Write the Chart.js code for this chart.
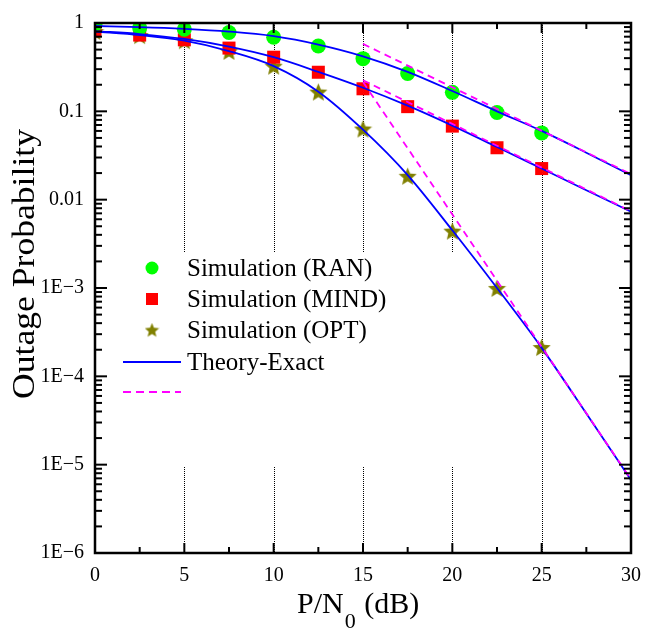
<!DOCTYPE html>
<html>
<head>
<meta charset="utf-8">
<script src="https://cdn.jsdelivr.net/npm/chart.js@4.4.0/dist/chart.umd.min.js"></script>
<style>
  html, body { margin: 0; padding: 0; background: #fff; }
</style>
</head>
<body>
<canvas id="chart" width="656" height="632"></canvas>
<script>
// P/N0 (dB) values
const snrSim = [0, 2.5, 5, 7.5, 10, 12.5, 15, 17.5, 20, 22.5, 25];
const snrTheory = [0, 2.5, 5, 7.5, 10, 12.5, 15, 17.5, 20, 22.5, 25, 27.5, 30];
const snrAsym = [15, 30];

// simulated outage probability
const simRan = [0.96, 0.88, 0.85, 0.78, 0.69, 0.55, 0.395, 0.268, 0.164, 0.097, 0.057];
const simMind = [0.82, 0.73, 0.645, 0.52, 0.41, 0.277, 0.18, 0.113, 0.068, 0.0387, 0.0225];
const simOpt = [0.8, 0.72, 0.63, 0.477, 0.324, 0.165, 0.063, 0.0184, 0.0044, 0.00099, 0.000212];

// exact theory curves
const theoryRan = [0.925, 0.9, 0.86, 0.8, 0.71, 0.57, 0.42, 0.28, 0.17, 0.1, 0.06, 0.034, 0.0189];
const theoryMind = [0.81, 0.75, 0.66, 0.54, 0.41, 0.28, 0.185, 0.116, 0.069, 0.0395, 0.0225, 0.0128, 0.0073];
const theoryOpt = [0.8, 0.73, 0.63, 0.48, 0.325, 0.167, 0.062, 0.019, 0.0045, 0.001, 0.00021, 0.000038, 0.0000067];

// high SNR asymptotes
const asymRan = [0.58, 0.0195];
const asymMind = [0.225, 0.0074];
const asymOpt = [0.215, 0.0000068];

// axes
const xTicks = [0, 5, 10, 15, 20, 25, 30];
const xGrid = [5, 10, 15, 20, 25];
const yTickValues = [1, 0.1, 0.01, 1e-3, 1e-4, 1e-5, 1e-6];
const yTickLabels = ['1', '0.1', '0.01', '1E\u22123', '1E\u22124', '1E\u22125', '1E\u22126'];

const legendLabels = ['Simulation (RAN)', 'Simulation (MIND)', 'Simulation (OPT)', 'Theory-Exact', ''];

const SERIF = '"Liberation Serif", "Times New Roman", serif';

function makeStar(size, color) {
  const c = document.createElement('canvas');
  c.width = c.height = size;
  const g = c.getContext('2d');
  const cx = size / 2, cy = size / 2 + size * 0.04, R = size / 2, r = R * 0.45;
  g.beginPath();
  for (let i = 0; i < 10; i++) {
    const a = -Math.PI / 2 + i * Math.PI / 5;
    const rad = i % 2 === 0 ? R : r;
    g.lineTo(cx + rad * Math.cos(a), cy + rad * Math.sin(a));
  }
  g.closePath();
  g.fillStyle = color;
  g.fill();
  return c;
}

const star = makeStar(19, '#808000');
const starSmall = makeStar(15, '#808000');

function pts(xs, ys) {
  return xs.map((x, i) => ({ x: x, y: ys[i] }));
}

function simSet(ys, style, color, radius) {
  return {
    data: pts(snrSim, ys), showLine: false, order: 2,
    pointStyle: style, pointRadius: radius, pointHoverRadius: radius,
    pointBackgroundColor: color, pointBorderColor: color, pointBorderWidth: 0
  };
}

function theorySet(ys) {
  return {
    data: pts(snrTheory, ys), order: 1, borderColor: '#0000ff', borderWidth: 1.8,
    pointRadius: 0, cubicInterpolationMode: 'monotone'
  };
}

function asymSet(ys) {
  return {
    data: pts(snrAsym, ys), order: 0, borderColor: '#ff00ff', borderWidth: 1.8,
    borderDash: [7, 5], pointRadius: 0
  };
}

// frame, inward ticks, dotted grid, legend and axis titles
const decorations = {
  id: 'decorations',
  beforeDatasetsDraw(chart) {
    const { ctx, chartArea: a, scales: { x } } = chart;
    ctx.save();
    ctx.strokeStyle = '#000';
    ctx.lineWidth = 1;
    ctx.setLineDash([1, 1]);
    xGrid.forEach(v => {
      const px = Math.round(x.getPixelForValue(v)) + 0.5;
      ctx.beginPath();
      ctx.moveTo(px, a.top);
      ctx.lineTo(px, a.bottom);
      ctx.stroke();
    });
    ctx.setLineDash([]);
    // legend background
    ctx.fillStyle = '#fff';
    ctx.fillRect(103, 252, 360, 214);
    ctx.restore();
  },
  afterDraw(chart) {
    const { ctx, chartArea: a, scales: { x, y } } = chart;
    ctx.save();
    ctx.strokeStyle = '#000';
    ctx.lineWidth = 2;
    ctx.lineCap = 'butt';
    const tick = (x1, y1, x2, y2) => {
      ctx.beginPath();
      ctx.moveTo(x1, y1);
      ctx.lineTo(x2, y2);
      ctx.stroke();
    };
    // x ticks
    for (let v = 0; v <= 30; v += 2.5) {
      const px = x.getPixelForValue(v);
      const len = v % 5 === 0 ? 10 : 6;
      tick(px, a.bottom, px, a.bottom - len);
      tick(px, a.top, px, a.top + len);
    }
    // y ticks
    for (let e = -6; e <= 0; e++) {
      for (let m = 1; m <= 9; m++) {
        const v = m * Math.pow(10, e);
        if (v > 1) break;
        const py = y.getPixelForValue(v);
        const len = m === 1 ? 12 : 7;
        tick(a.left, py, a.left + len, py);
        tick(a.right, py, a.right - len, py);
      }
    }
    // frame
    ctx.lineWidth = 2.5;
    ctx.strokeRect(a.left, a.top, a.right - a.left, a.bottom - a.top);

    // legend
    const ds = chart.data.datasets;
    const lx = 152, rows = [268, 299, 330, 362, 392];
    ctx.fillStyle = '#00ff00';
    ctx.beginPath();
    ctx.arc(lx, rows[0], 6.5, 0, Math.PI * 2);
    ctx.fill();
    ctx.fillStyle = '#ff0000';
    ctx.fillRect(lx - 6, rows[1] - 6, 12, 12);
    ctx.drawImage(starSmall, lx - 7.5, rows[2] - 7.5);
    ctx.lineWidth = 1.8;
    ctx.strokeStyle = ds[3].borderColor;
    tick(123, rows[3], 181, rows[3]);
    ctx.strokeStyle = ds[6].borderColor;
    ctx.setLineDash([8, 5]);
    tick(123, rows[4], 181, rows[4]);
    ctx.setLineDash([]);
    ctx.fillStyle = '#000';
    ctx.font = '25px ' + SERIF;
    ctx.textBaseline = 'middle';
    ctx.textAlign = 'left';
    legendLabels.forEach((t, i) => ctx.fillText(t, 187, rows[i] + 1));

    // x title with subscript
    ctx.textBaseline = 'alphabetic';
    ctx.font = '30px ' + SERIF;
    let tx = 297;
    ctx.fillText('P/N', tx, 613);
    tx += ctx.measureText('P/N').width;
    ctx.font = '22px ' + SERIF;
    ctx.fillText('0', tx + 1, 628);
    tx += ctx.measureText('0').width + 2;
    ctx.font = '30px ' + SERIF;
    ctx.fillText(' (dB)', tx, 613);

    // y title
    ctx.translate(34, 264);
    ctx.rotate(-Math.PI / 2);
    ctx.font = '31px ' + SERIF;
    ctx.textAlign = 'center';
    const label = 'Outage Probability';
    const w = ctx.measureText(label).width;
    ctx.scale(270 / w, 1);
    ctx.fillText(label, 0, 0);
    ctx.restore();
  }
};

new Chart(document.getElementById('chart'), {
  type: 'line',
  data: {
    datasets: [
      simSet(simRan, 'circle', '#00ff00', 7.5),
      simSet(simMind, 'rect', '#ff0000', 9.2),
      simSet(simOpt, star, '#808000', 9),
      theorySet(theoryRan),
      theorySet(theoryMind),
      theorySet(theoryOpt),
      asymSet(asymRan),
      asymSet(asymMind),
      asymSet(asymOpt)
    ]
  },
  options: {
    responsive: false,
    animation: false,
    devicePixelRatio: 1,
    layout: { padding: { top: 18, right: 25, left: 0, bottom: 0 } },
    plugins: { legend: { display: false }, tooltip: { enabled: false } },
    scales: {
      x: {
        type: 'linear', min: 0, max: 30,
        afterBuildTicks: s => { s.ticks = xTicks.map(v => ({ value: v })); },
        afterFit: s => { s.height = 79; },
        grid: { display: false, drawTicks: false },
        border: { display: false },
        ticks: { color: '#000', padding: 11, maxRotation: 0, font: { family: SERIF, size: 20 } }
      },
      y: {
        type: 'logarithmic', min: 1e-6, max: 1,
        afterBuildTicks: s => { s.ticks = yTickValues.map(v => ({ value: v })); },
        afterFit: s => { s.width = 95; },
        grid: { display: false, drawTicks: false },
        border: { display: false },
        ticks: {
          color: '#000', padding: 11, font: { family: SERIF, size: 20 },
          callback: v => {
            const i = yTickValues.findIndex(t => Math.abs(Math.log10(t) - Math.log10(v)) < 1e-6);
            return i >= 0 ? yTickLabels[i] : '';
          }
        }
      }
    }
  },
  plugins: [decorations]
});
</script>
</body>
</html>
